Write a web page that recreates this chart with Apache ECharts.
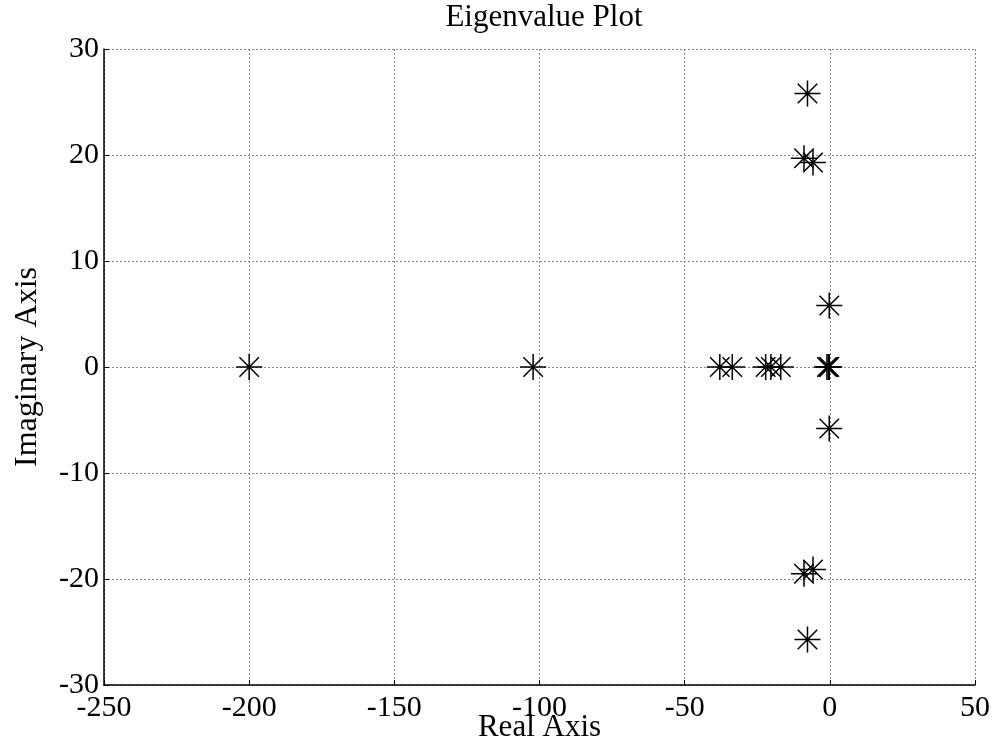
<!DOCTYPE html>
<html>
<head>
<meta charset="utf-8">
<script src="https://cdn.jsdelivr.net/npm/echarts@6/dist/echarts.min.js"></script>
<style>html,body{margin:0;padding:0;background:#fff}#c{width:994px;height:752px}</style>
</head>
<body>
<div id="c"></div>
<script>
var titleText = 'Eigenvalue Plot';
var xAxisName = 'Real Axis';
var yAxisName = 'Imaginary Axis';
var realParts = [-200, -102.2, -37.9, -33.6, -22.1, -20.3, -16.9, -1.0, -0.5, -0.2, -0.2, -0.2, -7.7, -7.7, -8.9, -8.9, -5.8, -5.8];
var imagParts = [0, 0, 0, 0, 0, 0, 0, 0, 0, 0, 5.8, -5.8, 25.8, -25.7, 19.7, -19.5, 19.3, -19.1];

var pts = realParts.map(function (r, i) { return [r, imagParts[i]]; });
var FONT = "'Liberation Serif','Times New Roman',serif";
var star = 'path://M0,-1L0,1M-1,0L1,0M-0.75,-0.75L0.75,0.75M-0.75,0.75L0.75,-0.75';

var chart = echarts.init(document.getElementById('c'), null, {renderer: 'canvas'});
chart.setOption({
  backgroundColor: '#fff',
  animation: false,
  title: {
    text: titleText, left: 539, textAlign: 'center', top: -3,
    textStyle: {fontFamily: FONT, fontSize: 31, fontWeight: 'normal', color: '#000'}
  },
  grid: {left: 104, top: 49, right: 19, bottom: 67, containLabel: false, outerBoundsMode: 'none'},
  xAxis: {
    type: 'value', min: -250, max: 50, interval: 50,
    name: xAxisName, nameLocation: 'middle', nameGap: 27, nameMoveOverlap: false,
    nameTextStyle: {fontFamily: FONT, fontSize: 31, color: '#000'},
    axisLine: {show: true, onZero: false, lineStyle: {color: '#000', width: 1.5}},
    axisTick: {show: true, inside: true, length: 5, lineStyle: {color: '#000'}},
    axisLabel: {fontFamily: FONT, fontSize: 30, color: '#000', margin: 8},
    splitLine: {show: true, lineStyle: {color: '#888', width: 1, type: [2, 2]}}
  },
  yAxis: {
    type: 'value', min: -30, max: 30, interval: 10,
    name: yAxisName, nameLocation: 'middle', nameGap: 60, nameMoveOverlap: false,
    nameTextStyle: {fontFamily: FONT, fontSize: 32, color: '#000'},
    axisLine: {show: true, onZero: false, lineStyle: {color: '#000', width: 1.5}},
    axisTick: {show: true, inside: true, length: 5, lineStyle: {color: '#000'}},
    axisLabel: {fontFamily: FONT, fontSize: 30, color: '#000', margin: 5},
    splitLine: {show: true, lineStyle: {color: '#888', width: 1, type: [2, 2]}}
  },
  series: [{
    type: 'scatter',
    data: pts,
    symbol: star,
    symbolSize: 26,
    itemStyle: {color: 'rgba(0,0,0,0)', borderColor: '#000', borderWidth: 1.5, opacity: 1},
    emphasis: {disabled: true}
  }]
});
</script>
</body>
</html>
